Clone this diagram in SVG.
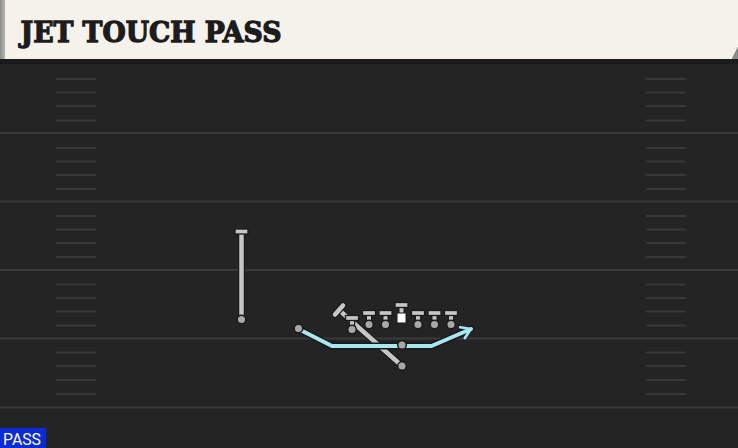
<svg xmlns="http://www.w3.org/2000/svg" width="738" height="448" viewBox="0 0 738 448">
<defs>
<style>
.yard{stroke:#3a3a3a;stroke-width:2}
.hash{stroke:#383838;stroke-width:2}
.route{fill:none;stroke-linecap:round;stroke-linejoin:round}
.out{stroke:#1a1a1a;stroke-width:7}
.gray{stroke:#c6c6c6;stroke-width:4.5}
.blue{stroke:#a8e6f2;stroke-width:4}
.dot{fill:#a8a8a8;stroke:#1a1a1a;stroke-width:1.5}
.bar{fill:#c6c6c6;stroke:#1a1a1a;stroke-width:1.3}
.stemo{stroke:#1a1a1a;stroke-width:6.5}
.stem{stroke:#c6c6c6;stroke-width:4}
.title{font-family:"DejaVu Serif","Liberation Serif",serif;font-weight:bold;font-size:28px;fill:#1c1c1c;stroke:#1c1c1c;stroke-width:1.3}
.tag{font-family:Roboto,"Liberation Sans",sans-serif;font-size:16px;fill:#ffffff}
</style>
<marker id="arr" viewBox="0 0 10 10" refX="7" refY="5" markerWidth="4.2" markerHeight="4.2" orient="auto" markerUnits="strokeWidth">
<path d="M1.5,1.5 L7,5 L1.5,8.5" fill="none" stroke="#a8e6f2" stroke-width="1.6" stroke-linecap="round" stroke-linejoin="round"/>
</marker>
<linearGradient id="hdrEdge" x1="0" x2="1" y1="0" y2="0">
<stop offset="0" stop-color="#8a8a8a"/><stop offset="1" stop-color="#b8b8b8"/>
</linearGradient>
</defs>

<!-- field -->
<rect x="0" y="0" width="738" height="448" fill="#242424"/>
<rect x="0" y="58" width="738" height="6" fill="#1b1b1b"/>
<g id="yardlines">
<line class="yard" x1="0" y1="133" x2="738" y2="133"/>
<line class="yard" x1="0" y1="201.5" x2="738" y2="201.5"/>
<line class="yard" x1="0" y1="270" x2="738" y2="270"/>
<line class="yard" x1="0" y1="338.5" x2="738" y2="338.5"/>
<line class="yard" x1="0" y1="407.5" x2="738" y2="407.5"/>
</g>
<g id="hashes">
<path class="hash" d="M56 79H96M56 92.5H96M56 106H96M56 120.5H96M56 148H96M56 161.5H96M56 175H96M56 189H96M56 216H96M56 229.5H96M56 243H96M56 257H96M56 284.5H96M56 298H96M56 311.5H96M56 325.5H96M56 352.5H96M56 366H96M56 380H96M56 394H96"/>
<path class="hash" d="M646 79H686M646 92.5H686M646 106H686M646 120.5H686M646 148H686M646 161.5H686M646 175H686M646 189H686M646 216H686M646 229.5H686M646 243H686M646 257H686M646 284.5H686M646 298H686M646 311.5H686M646 325.5H686M646 352.5H686M646 366H686M646 380H686M646 394H686"/>
</g>

<!-- header -->
<g id="header">
<path d="M0 0H738V47L732 59H0Z" fill="#f4f2eb"/>
<path d="M738 47L732 59H738Z" fill="#8c8c8c"/>
<rect x="0" y="0" width="5" height="59" fill="url(#hdrEdge)"/>
<text class="title" x="20.5" y="42.3" textLength="261" lengthAdjust="spacingAndGlyphs">JET TOUCH PASS</text>
</g>

<!-- connectors / routes -->
<g id="connectors">
<polyline class="route out" points="241.5,233 241.5,319"/>
<polyline class="route gray" points="241.5,233 241.5,319"/>
<line class="route out" x1="339" y1="310" x2="402" y2="366"/>
<line class="route gray" x1="339" y1="310" x2="402" y2="366"/>
<polyline class="route out" points="298.5,329 332,346 431.5,346 471,329"/>
<polyline class="route blue" points="298.5,329 332,346 431.5,346 471,329" marker-end="url(#arr)"/>
</g>

<!-- players -->
<g id="wr-left">
<rect class="bar" x="235" y="229" width="13" height="5"/>
<circle class="dot" cx="241.5" cy="319.5" r="4.3"/>
</g>
<g id="slot-diag">
<path d="M335,314.5 L343,305.5" stroke="#1a1a1a" stroke-width="7" stroke-linecap="round"/>
<path d="M335,314.5 L343,305.5" stroke="#c6c6c6" stroke-width="4.5" stroke-linecap="round"/>
<circle class="dot" cx="402" cy="366" r="4.3"/>
</g>
<g id="te">
<line class="stemo" x1="352" y1="318" x2="352" y2="329"/>
<line class="stem" x1="352" y1="318" x2="352" y2="329"/>
<rect class="bar" x="345.5" y="315.5" width="13" height="5"/>
<circle class="dot" cx="352" cy="329.5" r="4.3"/>
</g>
<g id="lt">
<line class="stemo" x1="369" y1="313" x2="369" y2="324"/>
<line class="stem" x1="369" y1="313" x2="369" y2="324"/>
<rect class="bar" x="362.5" y="310.5" width="13" height="5"/>
<circle class="dot" cx="369" cy="324.5" r="4.3"/>
</g>
<g id="lg">
<line class="stemo" x1="385.5" y1="313" x2="385.5" y2="324"/>
<line class="stem" x1="385.5" y1="313" x2="385.5" y2="324"/>
<rect class="bar" x="379" y="310.5" width="13" height="5"/>
<circle class="dot" cx="385.5" cy="324.5" r="4.3"/>
</g>
<g id="center">
<line class="stemo" x1="401.5" y1="305" x2="401.5" y2="314"/>
<line class="stem" x1="401.5" y1="305" x2="401.5" y2="314"/>
<rect class="bar" x="395" y="302.5" width="13" height="5"/>
<rect x="397" y="313" width="9" height="10" fill="#ffffff" stroke="#1a1a1a" stroke-width="1"/>
</g>
<g id="rg">
<line class="stemo" x1="418" y1="313" x2="418" y2="324"/>
<line class="stem" x1="418" y1="313" x2="418" y2="324"/>
<rect class="bar" x="411.5" y="310.5" width="13" height="5"/>
<circle class="dot" cx="418" cy="324.5" r="4.3"/>
</g>
<g id="rt">
<line class="stemo" x1="434.5" y1="313" x2="434.5" y2="324"/>
<line class="stem" x1="434.5" y1="313" x2="434.5" y2="324"/>
<rect class="bar" x="428" y="310.5" width="13" height="5"/>
<circle class="dot" cx="434.5" cy="324.5" r="4.3"/>
</g>
<g id="te-right">
<line class="stemo" x1="451" y1="313" x2="451" y2="324"/>
<line class="stem" x1="451" y1="313" x2="451" y2="324"/>
<rect class="bar" x="444.5" y="310.5" width="13" height="5"/>
<circle class="dot" cx="451" cy="324.5" r="4.3"/>
</g>
<g id="qb">
<circle class="dot" cx="402" cy="345" r="4.3"/>
</g>
<g id="jet-start">
<circle class="dot" cx="298.5" cy="328.5" r="4.3"/>
</g>

<!-- footer tag -->
<g id="pass-tag">
<rect x="0" y="428" width="46" height="20" fill="#0a2bd6"/>
<text class="tag" x="3" y="445" textLength="38" lengthAdjust="spacingAndGlyphs">PASS</text>
</g>
</svg>
